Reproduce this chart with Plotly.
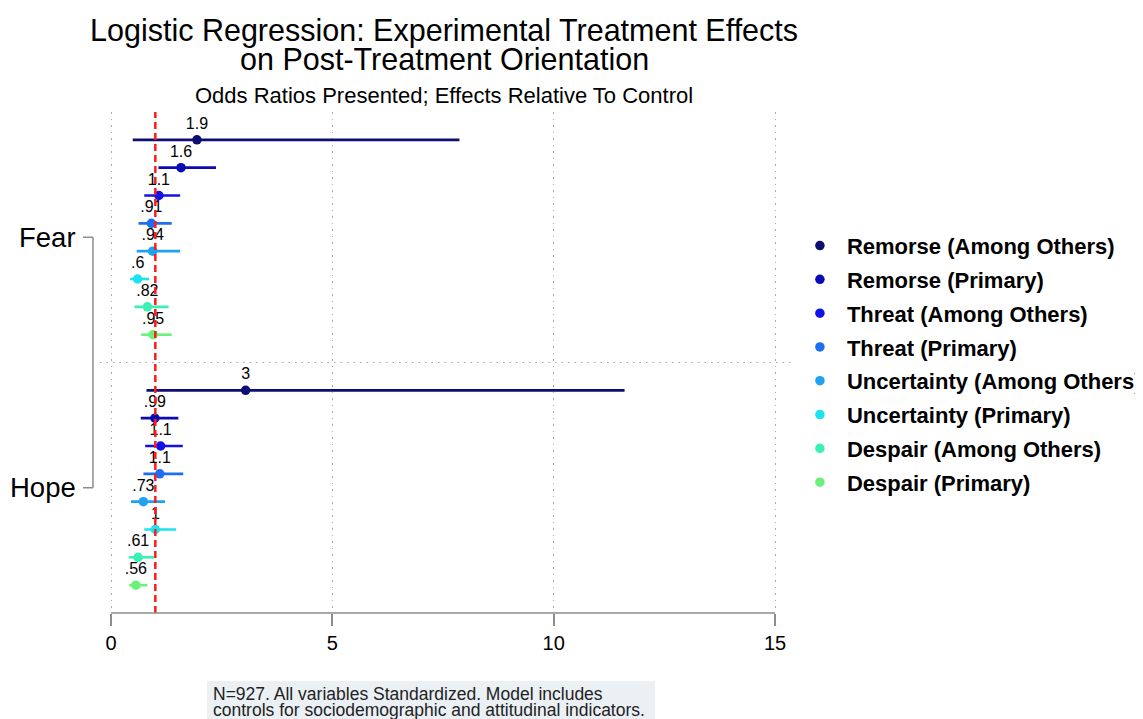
import plotly.graph_objects as go

# ---------------- data ----------------
groups = ["Fear", "Hope"]
series = ["Remorse (Among Others)", "Remorse (Primary)", "Threat (Among Others)",
          "Threat (Primary)", "Uncertainty (Among Others)", "Uncertainty (Primary)",
          "Despair (Among Others)", "Despair (Primary)"]
colors = ["#0d0d73", "#0a0ab4", "#1212e6", "#1e6ef0",
          "#1fa2f2", "#1de2f0", "#3cf0b4", "#6cf07c"]

# odds ratios (Fear, Hope) per series
odds_fear = [1.94, 1.58, 1.08, 0.91, 0.94, 0.60, 0.82, 0.95]
odds_hope = [3.04, 0.99, 1.12, 1.10, 0.73, 1.00, 0.61, 0.56]
# 95% CI lower / upper
lo_fear = [0.49, 1.07, 0.75, 0.62, 0.58, 0.43, 0.53, 0.68]
hi_fear = [7.87, 2.37, 1.56, 1.37, 1.56, 0.86, 1.30, 1.37]
lo_hope = [0.80, 0.67, 0.77, 0.73, 0.45, 0.75, 0.40, 0.41]
hi_hope = [11.6, 1.52, 1.62, 1.63, 1.22, 1.47, 0.98, 0.82]

x_ticks = [0, 5, 10, 15]
ref_line = 1

title_line1 = "Logistic Regression: Experimental Treatment Effects"
title_line2 = "on Post-Treatment Orientation"
subtitle = "Odds Ratios Presented; Effects Relative To Control"
note_line1 = "N=927. All variables Standardized. Model includes"
note_line2 = "controls for sociodemographic and attitudinal indicators."


def stata_g(v):
    s = "%.2g" % v
    if s.startswith("0."):
        s = s[1:]
    return s


FONT = "Liberation Sans, Arial, Helvetica, sans-serif"
n = len(series)
gap = n + 1  # one empty row between groups
group_center = [(n - 1) / 2, gap + (n - 1) / 2]

fig = go.Figure()
for i, name in enumerate(series):
    ys = [i, gap + i]
    est = [odds_fear[i], odds_hope[i]]
    lo = [lo_fear[i], lo_hope[i]]
    hi = [hi_fear[i], hi_hope[i]]
    fig.add_trace(go.Scatter(
        x=est, y=ys, mode="markers", name=name,
        legendgroup=name,
        marker=dict(color=colors[i], size=9.5),
        error_x=dict(type="data", symmetric=False,
                     array=[h - e for h, e in zip(hi, est)],
                     arrayminus=[e - l for e, l in zip(est, lo)],
                     color=colors[i], thickness=2.6, width=0),
    ))
    fig.add_trace(go.Scatter(
        x=est, y=ys, mode="markers+text", showlegend=False, hoverinfo="skip",
        text=[stata_g(v) for v in est], textposition="top center",
        textfont=dict(size=16, color="black", family=FONT),
        marker=dict(color="rgba(0,0,0,0)", size=9.5),
    ))

grey = "#8c8c8c"
shapes = [
    # reference line at OR = 1
    dict(type="line", xref="x", yref="paper", x0=ref_line, x1=ref_line, y0=0, y1=1,
         line=dict(color="#ff1a1a", width=2.5, dash="7px,4px"), layer="above"),
    # separator between groups
    dict(type="line", xref="paper", yref="y", x0=0, x1=1, y0=n, y1=n,
         line=dict(color="#a8a8a8", width=1.2, dash="1.5px,5px"), layer="below"),
    # x axis line from first to last tick
    dict(type="line", xref="x", yref="paper", x0=x_ticks[0], x1=x_ticks[-1], y0=0, y1=0,
         line=dict(color=grey, width=1.5)),
    # group bracket
    dict(type="line", xref="paper", yref="y", x0=-0.0101, x1=-0.0101,
         y0=group_center[0], y1=group_center[1], line=dict(color=grey, width=1.5)),
    dict(type="line", xref="paper", yref="y", x0=-0.0245, x1=-0.0101,
         y0=group_center[0], y1=group_center[0], line=dict(color=grey, width=1.5)),
    dict(type="line", xref="paper", yref="y", x0=-0.0245, x1=-0.0101,
         y0=group_center[1], y1=group_center[1], line=dict(color=grey, width=1.5)),
    # note background
    dict(type="rect", xref="paper", yref="paper", x0=0.154, x1=0.7986, y0=-0.212, y1=-0.1357,
         fillcolor="#eaf0f4", line=dict(width=0), layer="below"),
]

annotations = [
    dict(text=title_line2, xref="paper", yref="paper", x=0.495, y=1.106,
         xanchor="center", yanchor="middle", showarrow=False,
         font=dict(size=30.5, color="black", family=FONT)),
    dict(text=subtitle, xref="paper", yref="paper", x=0.495, y=1.032,
         xanchor="center", yanchor="middle", showarrow=False,
         font=dict(size=22, color="black", family=FONT)),
    dict(text=note_line1, xref="paper", yref="paper", x=0.1597, y=-0.1617,
         xanchor="left", yanchor="middle", showarrow=False,
         font=dict(size=17.5, color="#222222", family=FONT)),
    dict(text=note_line2, xref="paper", yref="paper", x=0.1597, y=-0.1936,
         xanchor="left", yanchor="middle", showarrow=False,
         font=dict(size=17.5, color="#222222", family=FONT)),
]
for g, c in zip(groups, group_center):
    annotations.append(dict(text=g, xref="paper", yref="y", x=-0.0317, y=c,
                            xanchor="right", yanchor="middle", showarrow=False,
                            font=dict(size=27.5, color="black", family=FONT)))

fig.update_layout(
    width=1135, height=711,
    margin=dict(l=92, r=348, t=104, b=106, autoexpand=False),
    paper_bgcolor="white", plot_bgcolor="white",
    font=dict(family=FONT, color="black"),
    title=dict(text=title_line1, x=0.495, xref="paper", xanchor="center",
               y=1 - 22 / 711, yanchor="middle",
               font=dict(size=30.5, color="black", family=FONT)),
    xaxis=dict(range=[-0.25, 15.45], tickvals=x_ticks, ticks="outside", ticklen=12,
               tickcolor=grey, tickwidth=1.5, showline=False, zeroline=False,
               showgrid=True, gridcolor="#a8a8a8", gridwidth=1.2, griddash="1.5px,5px",
               tickfont=dict(size=20, color="black", family=FONT)),
    yaxis=dict(range=[2 * n + 1, -1], showticklabels=False, showgrid=False,
               zeroline=False, showline=False, ticks=""),
    legend=dict(x=0.997, xanchor="left", y=0.775, yanchor="top",
                xref="paper", yref="paper",
                font=dict(size=22, color="black", family=FONT, weight="bold"),
                itemwidth=44, traceorder="grouped", tracegroupgap=2.2,
                bgcolor="rgba(0,0,0,0)", borderwidth=0),
    shapes=shapes, annotations=annotations, showlegend=True,
)

fig.write_html("out.html")
